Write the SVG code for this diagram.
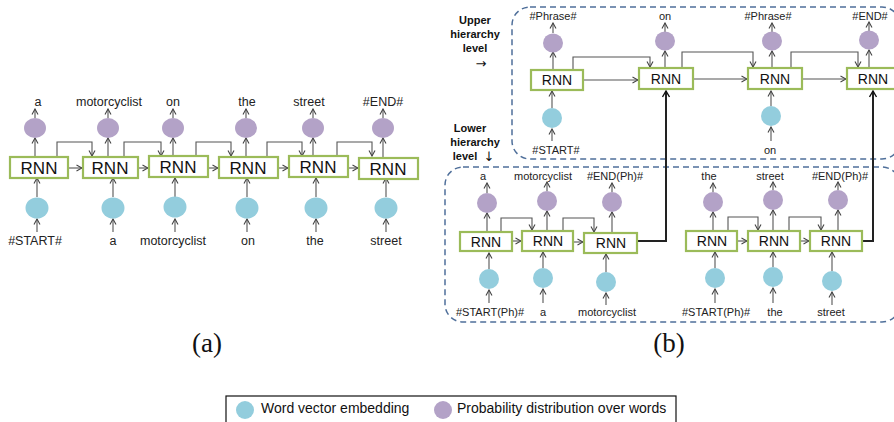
<svg xmlns="http://www.w3.org/2000/svg" width="894" height="422" viewBox="0 0 894 422">
<defs>
<marker id="ah" markerUnits="userSpaceOnUse" markerWidth="8" markerHeight="8" viewBox="0 0 8 8" refX="7" refY="4" orient="auto">
<path d="M1.5,1 L7,4 L1.5,7" fill="none" stroke="#444" stroke-width="1.1"/>
</marker>
<marker id="ahk" markerUnits="userSpaceOnUse" markerWidth="9" markerHeight="9" viewBox="0 0 9 9" refX="8" refY="4.5" orient="auto">
<path d="M2,1 L8,4.5 L2,8" fill="none" stroke="#111" stroke-width="1.4"/>
</marker>
</defs>
<style>
.rnn rect{fill:#fff;stroke:#9BBB59;stroke-width:2.2}
.rnn text{font-family:"Liberation Sans",Arial,sans-serif;fill:#111;text-anchor:middle}
.ra text{font-size:17px}
.rb text{font-size:14px}
.pu{fill:#B3A2C7}
.bl{fill:#93CDDD}
.la{font-family:"Liberation Sans",Arial,sans-serif;font-size:12.5px;fill:#222;text-anchor:middle}
.lb{font-family:"Liberation Sans",Arial,sans-serif;font-size:11px;fill:#222;text-anchor:middle}
.side{font-family:"Liberation Sans",Arial,sans-serif;font-size:11px;font-weight:bold;fill:#111;text-anchor:middle}
.sarr{font-family:"DejaVu Sans",sans-serif;font-size:13px;fill:#111;text-anchor:middle}
.cap{font-family:"Liberation Serif","Times New Roman",serif;font-size:27px;fill:#111;text-anchor:middle}
.leg{font-family:"Liberation Sans",Arial,sans-serif;font-size:14px;fill:#111}
.dash{fill:none;stroke:#4F6F9A;stroke-width:1.5;stroke-dasharray:6 4}
#connectors path,#connectors line,#connectors polyline{fill:none;stroke:#555;stroke-width:1.1;marker-end:url(#ah)}
#connectors .thick{stroke:#222;stroke-width:2;marker-end:url(#ahk)}
</style>
<rect width="894" height="422" fill="#fff"/>

<!-- frames -->
<g id="upper-frame"><rect class="dash" x="512" y="7" width="388" height="152" rx="18"/></g>
<g id="lower-frame"><rect class="dash" x="445" y="167" width="455" height="155" rx="18"/></g>

<g id="connectors">
<!-- (a) vertical -->
<line x1="35" y1="118" x2="35" y2="109"/><line x1="35" y1="157" x2="35" y2="138"/><line x1="37" y1="197" x2="37" y2="178"/><line x1="37" y1="232" x2="37" y2="219"/>
<line x1="108" y1="118" x2="108" y2="109"/><line x1="108" y1="157" x2="108" y2="138"/><line x1="113" y1="197" x2="113" y2="178"/><line x1="113" y1="232" x2="113" y2="219"/>
<line x1="173" y1="118" x2="173" y2="109"/><line x1="173" y1="157" x2="173" y2="138"/><line x1="175" y1="197" x2="175" y2="178"/><line x1="175" y1="232" x2="175" y2="219"/>
<line x1="246" y1="118" x2="246" y2="109"/><line x1="246" y1="157" x2="246" y2="138"/><line x1="247" y1="197" x2="247" y2="178"/><line x1="247" y1="232" x2="247" y2="219"/>
<line x1="313" y1="118" x2="313" y2="109"/><line x1="313" y1="157" x2="313" y2="138"/><line x1="316" y1="197" x2="316" y2="178"/><line x1="316" y1="232" x2="316" y2="219"/>
<line x1="383" y1="118" x2="383" y2="109"/><line x1="383" y1="157" x2="383" y2="138"/><line x1="386" y1="197" x2="386" y2="178"/><line x1="386" y1="232" x2="386" y2="219"/>
<!-- (a) recurrent -->
<polyline points="57,157 57,142 92,142 92,156"/><line x1="68" y1="168" x2="82" y2="168"/>
<polyline points="124,157 124,142 161,142 161,156"/><line x1="138" y1="168" x2="148" y2="168"/>
<polyline points="196,157 196,142 231,142 231,156"/><line x1="208" y1="168" x2="218" y2="168"/>
<polyline points="267,157 267,142 302,142 302,156"/><line x1="278" y1="168" x2="288" y2="168"/>
<polyline points="337,157 337,142 372,142 372,156"/><line x1="348" y1="168" x2="358" y2="168"/>
<!-- (b) upper vertical -->
<line x1="553" y1="33" x2="553" y2="23"/><line x1="553" y1="69" x2="553" y2="52"/><line x1="552" y1="108" x2="552" y2="91"/><line x1="552" y1="141" x2="552" y2="129"/>
<line x1="665" y1="32" x2="665" y2="23"/><line x1="665" y1="68" x2="665" y2="51"/>
<line x1="772" y1="32" x2="772" y2="23"/><line x1="772" y1="68" x2="772" y2="51"/><line x1="771" y1="106" x2="771" y2="91"/><line x1="771" y1="141" x2="771" y2="127"/>
<line x1="869" y1="31" x2="869" y2="22"/><line x1="869" y1="68" x2="869" y2="50"/>
<!-- (b) upper recurrent -->
<polyline points="573,69 573,57 650,57 650,67"/><line x1="583" y1="80" x2="638" y2="80"/>
<polyline points="682,68 682,52 753,52 753,67"/><line x1="693" y1="79" x2="747" y2="79"/>
<polyline points="791,68 791,52 858,52 858,67"/><line x1="802" y1="79" x2="846" y2="79"/>
<!-- (b) lower vertical -->
<line x1="487" y1="193" x2="487" y2="183"/><line x1="487" y1="232" x2="487" y2="213"/><line x1="489" y1="269" x2="489" y2="253"/><line x1="489" y1="303" x2="489" y2="290"/>
<line x1="547" y1="191" x2="547" y2="182"/><line x1="547" y1="231" x2="547" y2="211"/><line x1="543" y1="268" x2="543" y2="252"/><line x1="543" y1="303" x2="543" y2="289"/>
<line x1="612" y1="192" x2="612" y2="183"/><line x1="612" y1="233" x2="612" y2="212"/><line x1="606" y1="272" x2="606" y2="254"/><line x1="606" y1="305" x2="606" y2="293"/>
<line x1="713" y1="192" x2="713" y2="183"/><line x1="713" y1="231" x2="713" y2="212"/><line x1="715" y1="268" x2="715" y2="252"/><line x1="715" y1="303" x2="715" y2="289"/>
<line x1="773" y1="190" x2="773" y2="182"/><line x1="773" y1="231" x2="773" y2="210"/><line x1="773" y1="267" x2="773" y2="252"/><line x1="773" y1="303" x2="773" y2="288"/>
<line x1="838" y1="190" x2="838" y2="182"/><line x1="838" y1="231" x2="838" y2="210"/><line x1="832" y1="271" x2="832" y2="252"/><line x1="832" y1="305" x2="832" y2="292"/>
<!-- (b) lower recurrent -->
<polyline points="501,232 501,218 532,218 532,230"/><line x1="512" y1="241" x2="521" y2="241"/>
<polyline points="563,231 563,218 594,218 594,232"/><line x1="573" y1="242" x2="583" y2="242"/>
<polyline points="728,231 728,217 758,217 758,230"/><line x1="737" y1="241" x2="747" y2="241"/>
<polyline points="789,231 789,217 821,217 821,230"/><line x1="800" y1="241" x2="809" y2="241"/>
<!-- (b) phrase outputs to upper level -->
<polyline class="thick" points="637,241 666,241 666,91"/>
<polyline class="thick" points="862,241 873,241 873,91"/>
</g>

<!-- (a) nodes -->
<g id="a-rnn1" class="rnn ra"><rect x="10" y="157" width="58" height="21"/><text x="39" y="174">RNN</text></g>
<g id="a-rnn2" class="rnn ra"><rect x="83" y="157" width="55" height="21"/><text x="110" y="174">RNN</text></g>
<g id="a-rnn3" class="rnn ra"><rect x="149" y="156" width="59" height="21"/><text x="178" y="173">RNN</text></g>
<g id="a-rnn4" class="rnn ra"><rect x="219" y="157" width="59" height="21"/><text x="248" y="174">RNN</text></g>
<g id="a-rnn5" class="rnn ra"><rect x="289" y="156" width="59" height="21"/><text x="318" y="173">RNN</text></g>
<g id="a-rnn6" class="rnn ra"><rect x="359" y="158" width="59" height="21"/><text x="388" y="175">RNN</text></g>
<g id="a-out1"><ellipse class="pu" cx="35" cy="128" rx="11" ry="10"/></g>
<g id="a-out2"><ellipse class="pu" cx="108" cy="128" rx="11" ry="10"/></g>
<g id="a-out3"><ellipse class="pu" cx="173" cy="128" rx="11" ry="10"/></g>
<g id="a-out4"><ellipse class="pu" cx="246" cy="128" rx="11" ry="10"/></g>
<g id="a-out5"><ellipse class="pu" cx="313" cy="128" rx="11" ry="10"/></g>
<g id="a-out6"><ellipse class="pu" cx="383" cy="128" rx="11" ry="10"/></g>
<g id="a-in1"><ellipse class="bl" cx="37" cy="208" rx="11.5" ry="10.5"/></g>
<g id="a-in2"><ellipse class="bl" cx="113" cy="208" rx="11.5" ry="10.5"/></g>
<g id="a-in3"><ellipse class="bl" cx="175" cy="207" rx="11.5" ry="10.5"/></g>
<g id="a-in4"><ellipse class="bl" cx="247" cy="208" rx="11.5" ry="10.5"/></g>
<g id="a-in5"><ellipse class="bl" cx="316" cy="208" rx="11.5" ry="10.5"/></g>
<g id="a-in6"><ellipse class="bl" cx="386" cy="208" rx="11.5" ry="10.5"/></g>
<g id="a-labels">
<text class="la" x="38" y="106">a</text>
<text class="la" x="109" y="106">motorcyclist</text>
<text class="la" x="173" y="106">on</text>
<text class="la" x="247" y="106">the</text>
<text class="la" x="309" y="106">street</text>
<text class="la" x="383" y="106">#END#</text>
<text class="la" x="35" y="245">#START#</text>
<text class="la" x="113" y="245">a</text>
<text class="la" x="173" y="245">motorcyclist</text>
<text class="la" x="248" y="245">on</text>
<text class="la" x="315" y="245">the</text>
<text class="la" x="386" y="245">street</text>
</g>

<!-- (b) upper nodes -->
<g id="u-rnn1" class="rnn rb"><rect x="531" y="70" width="52" height="20"/><text x="557" y="85">RNN</text></g>
<g id="u-rnn2" class="rnn rb"><rect x="639" y="68" width="54" height="21"/><text x="666" y="84">RNN</text></g>
<g id="u-rnn3" class="rnn rb"><rect x="748" y="68" width="54" height="21"/><text x="775" y="84">RNN</text></g>
<g id="u-rnn4" class="rnn rb"><rect x="847" y="68" width="50" height="21"/><text x="873" y="84">RNN</text></g>
<g id="u-out1"><ellipse class="pu" cx="553" cy="43" rx="10" ry="9.5"/></g>
<g id="u-out2"><ellipse class="pu" cx="665" cy="41" rx="10" ry="9.5"/></g>
<g id="u-out3"><ellipse class="pu" cx="772" cy="41" rx="10" ry="9.5"/></g>
<g id="u-out4"><ellipse class="pu" cx="869" cy="40" rx="10" ry="9.5"/></g>
<g id="u-in1"><ellipse class="bl" cx="552" cy="118" rx="10" ry="10"/></g>
<g id="u-in3"><ellipse class="bl" cx="771" cy="116" rx="10" ry="10"/></g>
<g id="u-labels">
<text class="lb" x="553" y="20">#Phrase#</text>
<text class="lb" x="665" y="20">on</text>
<text class="lb" x="768" y="20">#Phrase#</text>
<text class="lb" x="870" y="20">#END#</text>
<text class="lb" x="556" y="154">#START#</text>
<text class="lb" x="770" y="154">on</text>
</g>
<g id="side-labels">
<text class="side" x="475" y="24">Upper</text>
<text class="side" x="475" y="38">hierarchy</text>
<text class="side" x="475" y="52">level</text>
<text class="sarr" x="481" y="68">&#x2192;&#xFE0E;</text>
<text class="side" x="470" y="132">Lower</text>
<text class="side" x="475" y="146">hierarchy</text>
<text class="side" x="465" y="160">level</text>
<text class="sarr" x="489" y="161">&#x2193;&#xFE0E;</text>
</g>

<!-- (b) lower nodes -->
<g id="l-rnn1" class="rnn rb"><rect x="460" y="232" width="52" height="19"/><text x="486" y="247">RNN</text></g>
<g id="l-rnn2" class="rnn rb"><rect x="522" y="231" width="51" height="20"/><text x="548" y="246">RNN</text></g>
<g id="l-rnn3" class="rnn rb"><rect x="584" y="233" width="53" height="20"/><text x="611" y="248">RNN</text></g>
<g id="l-rnn4" class="rnn rb"><rect x="686" y="231" width="51" height="20"/><text x="712" y="246">RNN</text></g>
<g id="l-rnn5" class="rnn rb"><rect x="748" y="231" width="52" height="20"/><text x="774" y="246">RNN</text></g>
<g id="l-rnn6" class="rnn rb"><rect x="810" y="231" width="52" height="20"/><text x="836" y="246">RNN</text></g>
<g id="l-out1"><ellipse class="pu" cx="487" cy="203" rx="10" ry="10"/></g>
<g id="l-out2"><ellipse class="pu" cx="547" cy="201" rx="10" ry="10"/></g>
<g id="l-out3"><ellipse class="pu" cx="612" cy="202" rx="10" ry="10"/></g>
<g id="l-out4"><ellipse class="pu" cx="713" cy="202" rx="10" ry="10"/></g>
<g id="l-out5"><ellipse class="pu" cx="773" cy="200" rx="10" ry="10"/></g>
<g id="l-out6"><ellipse class="pu" cx="838" cy="200" rx="10" ry="10"/></g>
<g id="l-in1"><ellipse class="bl" cx="489" cy="279" rx="10" ry="10"/></g>
<g id="l-in2"><ellipse class="bl" cx="543" cy="278" rx="10" ry="10"/></g>
<g id="l-in3"><ellipse class="bl" cx="606" cy="282" rx="10" ry="10"/></g>
<g id="l-in4"><ellipse class="bl" cx="715" cy="278" rx="10" ry="10"/></g>
<g id="l-in5"><ellipse class="bl" cx="773" cy="277" rx="10" ry="10"/></g>
<g id="l-in6"><ellipse class="bl" cx="832" cy="281" rx="10" ry="10"/></g>
<g id="l-labels">
<text class="lb" x="483" y="180">a</text>
<text class="lb" x="543" y="180">motorcyclist</text>
<text class="lb" x="615" y="180">#END(Ph)#</text>
<text class="lb" x="709" y="180">the</text>
<text class="lb" x="770" y="180">street</text>
<text class="lb" x="840" y="180">#END(Ph)#</text>
<text class="lb" x="490" y="316">#START(Ph)#</text>
<text class="lb" x="543" y="316">a</text>
<text class="lb" x="607" y="316">motorcyclist</text>
<text class="lb" x="716" y="316">#START(Ph)#</text>
<text class="lb" x="775" y="316">the</text>
<text class="lb" x="831" y="316">street</text>
</g>

<!-- captions -->
<g id="captions">
<text class="cap" x="207" y="352">(a)</text>
<text class="cap" x="669" y="352">(b)</text>
</g>

<!-- legend -->
<g id="legend">
<rect x="226" y="396" width="450" height="34" fill="none" stroke="#111" stroke-width="1.2"/>
<circle class="bl" cx="245" cy="410" r="9"/>
<text class="leg" x="261" y="413">Word vector embedding</text>
<circle class="pu" cx="443" cy="410" r="9"/>
<text class="leg" x="457" y="413">Probability distribution over words</text>
</g>
</svg>
